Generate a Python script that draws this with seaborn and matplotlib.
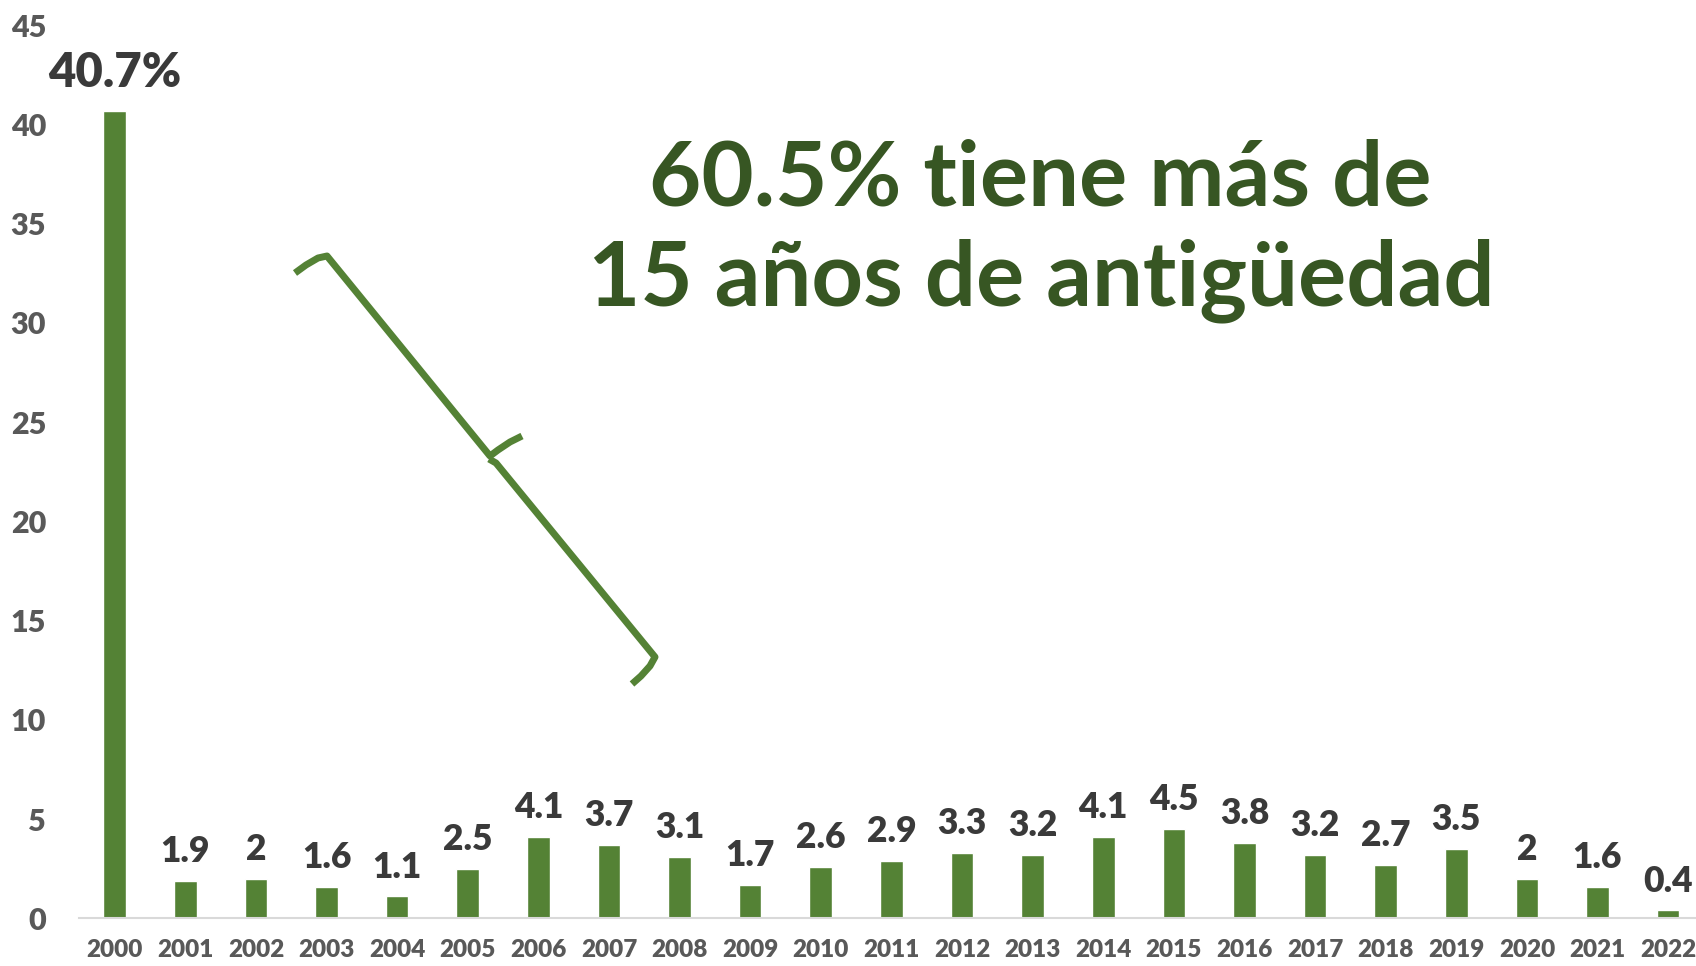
import numpy as np
import pandas as pd
import seaborn as sns
import matplotlib.pyplot as plt
from matplotlib.lines import Line2D

# data
years = [str(y) for y in range(2000, 2023)]
values = [40.7, 1.9, 2, 1.6, 1.1, 2.5, 4.1, 3.7, 3.1, 1.7, 2.6, 2.9,
          3.3, 3.2, 4.1, 4.5, 3.8, 3.2, 2.7, 3.5, 2, 1.6, 0.4]
y_ticks = [0, 5, 10, 15, 20, 25, 30, 35, 40, 45]
title_lines = ["60.5% tiene más de", "15 años de antigüedad"]

bar_green = "#548235"
dark_green = "#375623"
label_grey = "#595959"
value_grey = "#3a3a3a"

sns.set_style("white")
plt.rcParams['font.family'] = ['Lato', 'DejaVu Sans']
plt.rcParams['font.weight'] = 'bold'

W, H = 1696, 966
fig = plt.figure(figsize=(W / 100, H / 100), dpi=100)
ax = fig.add_axes([79.4 / W, 47.7 / H, 1624 / W, 893 / H])

df = pd.DataFrame({"year": years, "pct": values})
sns.barplot(data=df, x="year", y="pct", color=bar_green, saturation=1,
            width=0.32, ax=ax)

ax.set_xlim(-0.5, 22.5)
ax.set_ylim(0, 45)
ax.set_xticks(range(len(years)), years, fontweight="heavy", fontsize=17.5)
ax.set_yticks(y_ticks, [str(t) for t in y_ticks], fontweight="heavy", fontsize=22)
ax.set_xlabel("")
ax.set_ylabel("")
for s in ["top", "right", "left"]:
    ax.spines[s].set_visible(False)
ax.spines["bottom"].set_color("#d9d9d9")
ax.spines["bottom"].set_linewidth(1.5)
ax.tick_params(axis="x", length=0, pad=15, labelcolor=label_grey)
ax.tick_params(axis="y", length=0, pad=24, labelcolor=label_grey)

# value labels
for i, v in enumerate(values):
    if i == 0:
        ax.annotate(f"{v:g}%", (i, v), xytext=(0, 17), textcoords="offset points",
                    ha="center", va="baseline", fontsize=34, fontweight="heavy",
                    color=value_grey)
    else:
        ax.annotate(f"{v:g}", (i, v), xytext=(0, 13.5), textcoords="offset points",
                    ha="center", va="baseline", fontsize=25.5, fontweight="heavy",
                    color=value_grey)

# title text
fig.text(1040 / W, 1 - 205 / H, title_lines[0], ha="center", va="baseline",
         fontsize=65, fontweight="bold", color=dark_green)
fig.text(1041 / W, 1 - 305 / H, title_lines[1], ha="center", va="baseline",
         fontsize=65, fontweight="bold", color=dark_green)

# the brace, in pixel positions of the figure
def px(pts):
    xs = [p[0] / W for p in pts]
    ys = [1 - p[1] / H for p in pts]
    return xs, ys

upper = [(295, 273), (306, 265), (318, 258), (327, 256), (490, 456),
         (498, 450), (510, 442), (522, 436)]
lower = [(489, 459), (496, 463), (655, 657), (650, 666), (641, 676), (632, 684)]
for seg in (upper, lower):
    xs, ys = px(seg)
    fig.add_artist(Line2D(xs, ys, transform=fig.transFigure, color=bar_green,
                          lw=5, solid_joinstyle="round", solid_capstyle="butt"))

fig.savefig("out.png", dpi=100)
